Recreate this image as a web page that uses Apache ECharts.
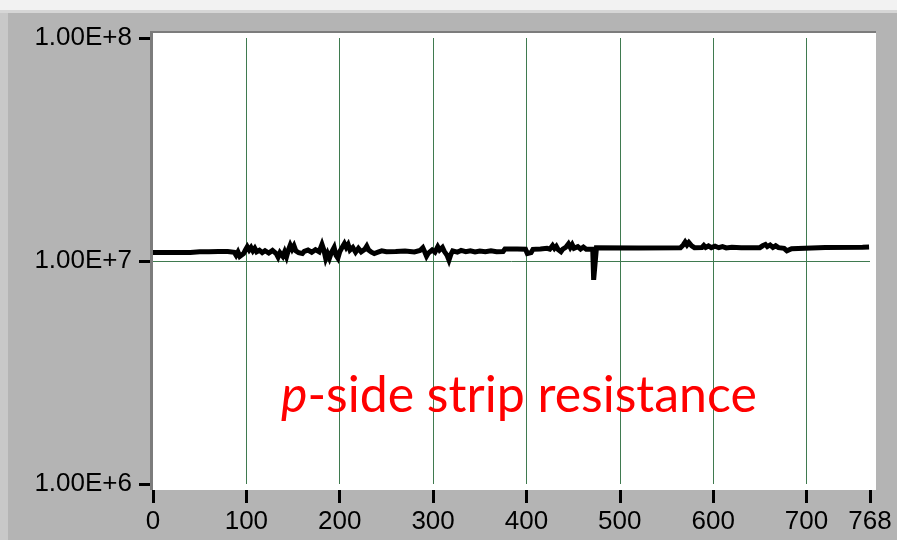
<!DOCTYPE html>
<html>
<head>
<meta charset="utf-8">
<script src="https://cdn.jsdelivr.net/npm/echarts@6/dist/echarts.min.js"></script>
<style>html,body{margin:0;padding:0;background:#b4b4b4;}#c{width:897px;height:540px;}</style>
</head>
<body>
<div id="c"></div>
<script>
// Strip channel numbers and measured resistance (MOhm)
const channels = [0,40,50,51,60,61,70,71,80,82,87,89,91,93,95,97,99,101,103,105,107,109,111,114,117,120,124,128,132,134,136,139,141,143,145,147,149,151,153,156,158,160,162,166,170,174,178,181,183,185,187,189,191,194,196,198,200,203,205,207,209,211,214,217,220,223,227,229,231,234,237,239,241,245,250,260,270,271,280,286,289,291,293,295,299,302,305,307,310,312,315,317,319,321,326,330,335,340,345,350,356,362,368,375,377,390,399,401,403,405,407,415,422,425,428,430,432,434,437,439,442,445,447,449,451,455,458,461,464,471,472,474,475,520,565,568,570,572,574,577,580,588,590,592,595,598,602,606,610,614,620,630,650,653,656,658,661,664,667,670,676,679,681,684,686,720,760,767];
const resistanceM = [10.92,10.93,11.00,10.93,11.01,10.94,11.02,10.95,11.04,10.96,10.94,10.60,10.98,10.50,10.44,10.80,11.20,11.58,11.20,11.50,11.10,11.40,11.00,11.18,10.90,11.12,10.85,11.15,10.80,10.41,10.90,10.50,11.00,10.45,11.20,11.78,11.30,11.70,11.10,10.90,10.72,10.80,11.05,11.20,10.95,11.25,11.00,11.86,11.20,10.26,10.80,10.30,10.90,11.50,10.60,10.30,11.00,11.60,11.98,11.50,11.85,11.20,11.50,10.95,11.40,11.00,11.30,11.66,11.20,10.95,10.80,10.63,10.95,11.10,11.00,11.02,11.10,11.00,10.98,11.15,11.46,11.00,10.50,10.85,11.20,10.95,11.58,11.20,11.50,11.05,10.60,10.09,10.70,11.10,10.95,11.15,11.00,11.12,10.98,11.08,11.00,11.10,11.00,11.02,11.31,11.33,11.30,10.80,10.63,10.90,11.28,11.32,11.40,11.30,11.74,11.40,11.65,11.25,11.00,11.30,11.50,11.94,11.50,11.85,11.40,11.60,11.32,11.55,11.30,11.31,8.23,8.23,11.47,11.45,11.47,11.80,12.16,11.80,12.10,11.70,11.48,11.50,11.74,11.50,11.68,11.48,11.65,11.47,11.60,11.45,11.52,11.47,11.48,11.70,11.86,11.60,11.80,11.50,11.70,11.48,11.40,11.10,11.00,11.35,11.48,11.50,11.52,11.55];
const xTicks = [0,100,200,300,400,500,600,700,768];
const yTickLabels = {6:'1.00E+6', 7:'1.00E+7', 8:'1.00E+8'};
const yGridValues = [1e7];
const annotation = ['p', '-side strip resistance'];

const seriesData = channels.map((c,i)=>[c, resistanceM[i]*1e6]);

const chart = echarts.init(document.getElementById('c'), null, {renderer:'canvas'});
const labelFont = {fontFamily:'Liberation Sans', fontSize:26, color:'#000'};
const gridGreen = '#3f7a4f';
chart.setOption({
  animation:false,
  backgroundColor:'#b4b4b4',
  grid:{left:153, right:27, top:38, bottom:56, containLabel:false},
  xAxis:{
    type:'value', min:xTicks[0], max:xTicks[xTicks.length-1], interval:100,
    offset:6,
    axisLine:{show:false},
    axisTick:{show:true, length:13, lineStyle:{color:'#000', width:3}},
    axisLabel:Object.assign({margin:19, showMaxLabel:true, showMinLabel:true}, labelFont),
    splitLine:{show:true, showMinLine:false, showMaxLine:false, lineStyle:{color:gridGreen, width:1}}
  },
  yAxis:{
    type:'log', logBase:10, min:1e6, max:1e8,
    axisLine:{show:false},
    axisTick:{show:true, length:14, lineStyle:{color:'#000', width:3}},
    axisLabel:Object.assign({margin:21, formatter:v=>yTickLabels[Math.round(Math.log10(v))]||''}, labelFont),
    splitLine:{show:false},
    minorTick:{show:false}, minorSplitLine:{show:false}
  },
  graphic:[
    {type:'rect', z:-100, shape:{x:0,y:0,width:897,height:10}, style:{fill:'#f2f2f2'}},
    {type:'rect', z:-100, shape:{x:0,y:10,width:897,height:3}, style:{fill:'#d6d6d6'}},
    {type:'rect', z:-100, shape:{x:0,y:13,width:8,height:527}, style:{fill:'#c8c8c8'}},
    {type:'rect', z:-90, shape:{x:152,y:32,width:724,height:458}, style:{fill:'#ffffff'}},
    {type:'rect', z:50, shape:{x:150,y:31,width:726,height:2}, style:{fill:'#7c7c7c'}},
    {type:'rect', z:50, shape:{x:150,y:31,width:3,height:459}, style:{fill:'#7c7c7c'}},
    {type:'text', z:60, left:281, top:371,
      style:{
        text:'{i|'+annotation[0]+'}{n|'+annotation[1]+'}',
        rich:{
          i:{fontFamily:'Lato', fontStyle:'italic', fontSize:50, fill:'#ff0000'},
          n:{fontFamily:'Lato', fontSize:50, fill:'#ff0000'}
        }
      }
    }
  ],
  series:[
    {
      type:'line', data:[], z:1, silent:true, color:gridGreen,
      markLine:{
        silent:true, symbol:'none', animation:false, z:1,
        label:{show:false},
        lineStyle:{color:gridGreen, width:1, type:'solid', opacity:1},
        emphasis:{disabled:true},
        data:yGridValues.map(v=>({yAxis:v, lineStyle:{color:gridGreen, width:1, type:'solid'}}))
      }
    },
    {
      type:'line', data:seriesData, showSymbol:false, symbol:'none',
      lineStyle:{color:'#000', width:5, join:'miter'},
      z:10
    }
  ]
});
</script>
</body>
</html>
